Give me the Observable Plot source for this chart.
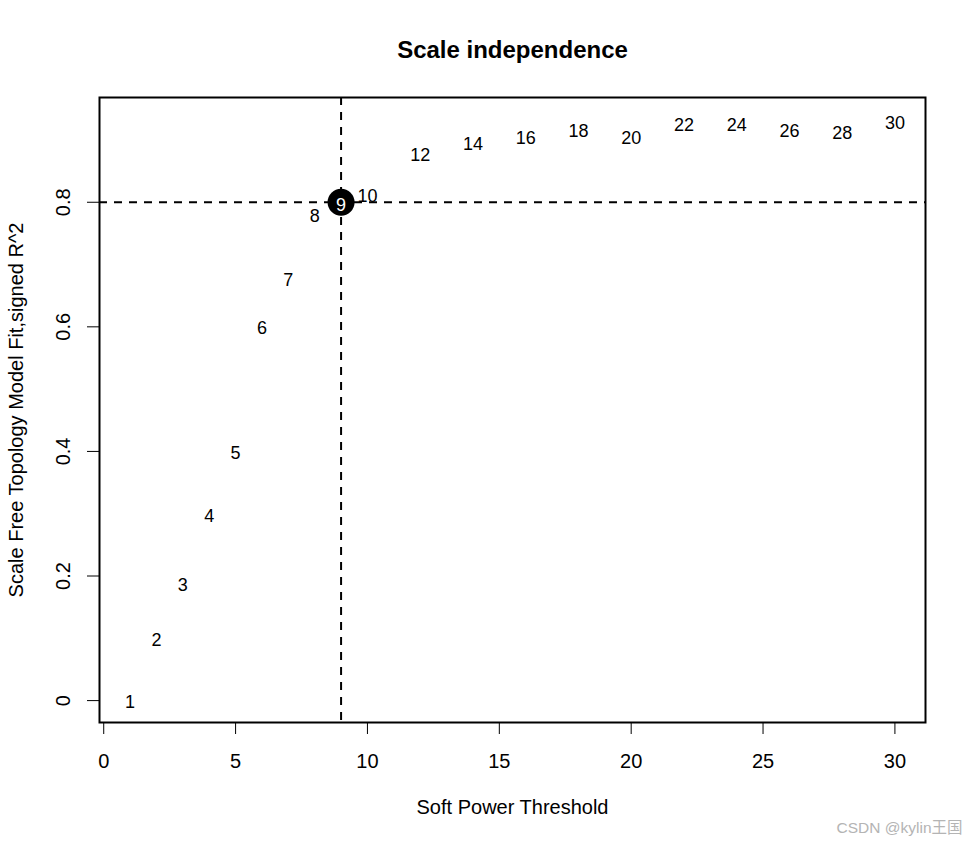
<!DOCTYPE html>
<html>
<head>
<meta charset="utf-8">
<script src="https://cdn.jsdelivr.net/npm/d3@7"></script>
<script src="https://cdn.jsdelivr.net/npm/@observablehq/plot@0.6"></script>
<style>
  html, body { margin: 0; padding: 0; background: #fff; }
  #chart { width: 977px; height: 846px; }
</style>
</head>
<body>
<div id="chart"></div>
<script>
// ---- data ----
const powers = [1, 2, 3, 4, 5, 6, 7, 8, 9, 10, 12, 14, 16, 18, 20, 22, 24, 26, 28, 30];
const signedR2 = [0.002, 0.102, 0.190, 0.301, 0.402, 0.603, 0.680, 0.783, 0.800, 0.815,
                  0.881, 0.898, 0.908, 0.919, 0.908, 0.929, 0.929, 0.919, 0.916, 0.931];
const xTicks = [0, 5, 10, 15, 20, 25, 30];
const yTicks = [0, 0.2, 0.4, 0.6, 0.8];
const yTickLabels = ["0", "0.2", "0.4", "0.6", "0.8"];
const cutoffR2 = 0.8;
const chosenPower = 9;
const titleText = "Scale independence";
const xLabel = "Soft Power Threshold";
const yLabel = "Scale Free Topology Model Fit,signed R^2";
const watermark = "CSDN @kylin王国";

// ---- build ----
const rows = powers.map((p, i) => ({power: p, r2: signedR2[i]}));
const chosen = rows.filter(d => d.power === chosenPower);

// R-style 4% axis extension
const ext = (lo, hi) => [lo - 0.04 * (hi - lo), hi + 0.04 * (hi - lo)];
const xDom = ext(d3.min(powers), d3.max(powers));
const yDom = ext(d3.min(signedR2), d3.max(signedR2));

const dash = "8,7";
const axisFs = 20;
const labelFs = 18;

const chart = Plot.plot({
  width: 977,
  height: 846,
  marginLeft: 99,
  marginRight: 52,
  marginTop: 97,
  marginBottom: 124,
  style: {fontFamily: "'Liberation Sans', Arial, sans-serif", fontSize: axisFs + "px", background: "#fff", color: "#000", overflow: "visible"},
  x: {domain: xDom},
  y: {domain: yDom},
  marks: [
    Plot.ruleY([cutoffR2], {stroke: "black", strokeWidth: 2, strokeDasharray: dash}),
    Plot.ruleX([chosenPower], {stroke: "black", strokeWidth: 2, strokeDasharray: dash}),
    Plot.frame({stroke: "black", strokeWidth: 2}),
    Plot.axisX(xTicks, {tickSize: 12, tickPadding: 19, fontSize: axisFs, label: null, stroke: "black", strokeWidth: 1}),
    Plot.axisY(yTicks, {tickSize: 12, text: null, label: null, stroke: "black", strokeWidth: 1}),
    Plot.text(yTicks, {y: d => d, text: (d, i) => yTickLabels[i], frameAnchor: "left", textAnchor: "middle", lineAnchor: "middle", rotate: -90, dx: -36, fontSize: axisFs, fill: "black"}),
    Plot.dot(chosen, {x: "power", y: "r2", r: 13.5, fill: "black", stroke: "none"}),
    Plot.text(rows, {x: "power", y: "r2", text: d => String(d.power), fontSize: labelFs, dy: 3, fill: d => d.power === chosenPower ? "white" : "black"}),
    Plot.text([titleText], {text: d => d, frameAnchor: "top", lineAnchor: "middle", dy: -47, fontSize: 24, fontWeight: "bold", fill: "black"}),
    Plot.text([xLabel], {text: d => d, frameAnchor: "bottom", lineAnchor: "middle", dy: 85, fontSize: axisFs, fill: "black"}),
    Plot.text([yLabel], {text: d => d, frameAnchor: "left", textAnchor: "middle", lineAnchor: "middle", rotate: -90, dx: -83, fontSize: axisFs, fill: "black"}),
    Plot.text([watermark], {text: d => d, frameAnchor: "bottom-right", lineAnchor: "middle", textAnchor: "end", dx: 37, dy: 106, fontSize: 15.5, fill: "#b4b4b4", fontFamily: "'Liberation Sans', 'Noto Sans CJK SC', sans-serif"})
  ]
});
document.getElementById("chart").appendChild(chart);
</script>
</body>
</html>
